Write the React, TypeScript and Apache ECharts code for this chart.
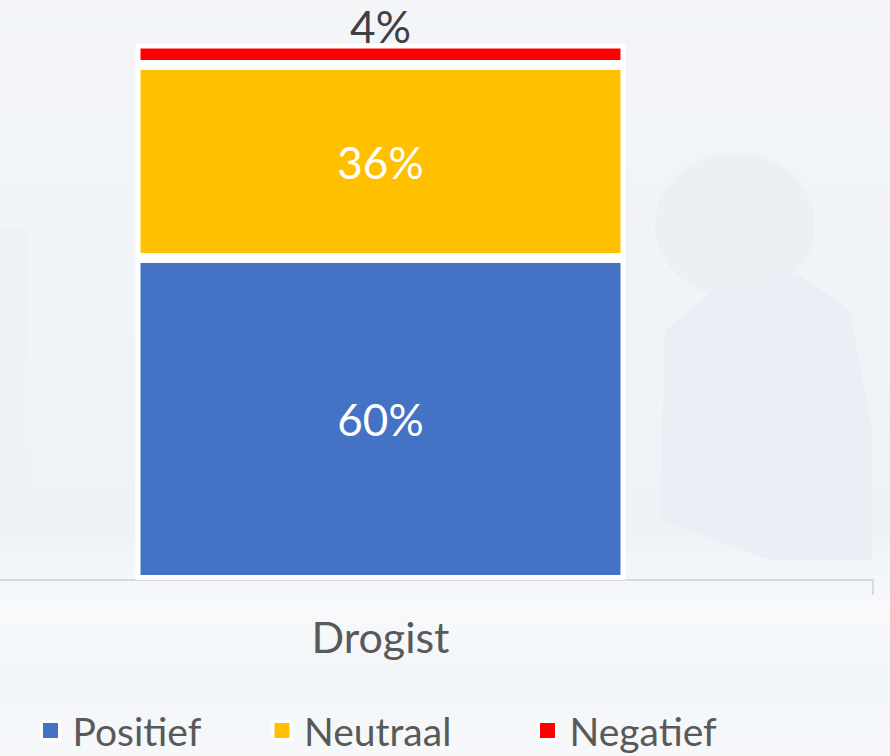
import React, { useEffect, useRef } from "react";
import * as echarts from "echarts";

const categories = ["Drogist"];
const seriesNames = ["Positief", "Neutraal", "Negatief"];
const positief = [60];
const neutraal = [36];
const negatief = [4];
const colors = ["#4472C4", "#FFC000", "#FF0000"];
const legendTextWidths = [142, 176, 182];

const FONT = "Lato, 'Noto Sans', sans-serif";

export default function App() {
  const ref = useRef<HTMLDivElement>(null);
  useEffect(() => {
    if (!ref.current) return;
    const chart = echarts.init(ref.current, undefined, { renderer: "svg" });
    const values = [positief, neutraal, negatief];
    chart.setOption({
      animation: false,
      backgroundColor: {
        type: "linear",
        x: 0, y: 0, x2: 0, y2: 1,
        colorStops: [
          { offset: 0, color: "#f3f5f8" },
          { offset: 0.7, color: "#eef2f7" },
          { offset: 0.8, color: "#f7f9fb" },
          { offset: 0.9, color: "#f3f6f9" },
          { offset: 1, color: "#f6f8fa" },
        ],
      },
      graphic: [
        { type: "ellipse", z: -10, silent: true, shape: { cx: 735, cy: 225, rx: 80, ry: 72 }, style: { fill: "#ecf0f5" } },
        { type: "polygon", z: -10, silent: true, shape: { points: [[665, 330], [720, 285], [800, 275], [850, 310], [872, 430], [872, 560], [770, 560], [660, 520]] }, style: { fill: "#ebeff5" } },
        { type: "rect", z: -10, silent: true, shape: { x: 0, y: 230, width: 28, height: 300 }, style: { fill: "#eef2f6" } },
      ],
      legend: {
        data: seriesNames.map((name, i) => ({
          name,
          textStyle: { width: legendTextWidths[i] },
        })),
        left: 35,
        top: 706,
        icon: "rect",
        itemWidth: 18,
        itemHeight: 18,
        itemGap: 57,
        itemStyle: { borderColor: "#ffffff", borderWidth: 3 },
        textStyle: { fontFamily: FONT, fontSize: 39, lineHeight: 38, color: "#595959", padding: [0, 0, 0, 8] },
      },
      grid: { left: -112, right: 17, top: 43.5, bottom: 176, containLabel: false, outerBoundsMode: "none" },
      xAxis: {
        type: "category",
        data: categories,
        axisLine: { show: true, lineStyle: { color: "#d9d9d9", width: 2 } },
        axisTick: { show: true, length: 15, lineStyle: { color: "#d9d9d9", width: 2 } },
        axisLabel: { fontFamily: FONT, fontSize: 43, color: "#595959", margin: 35 },
      },
      yAxis: {
        type: "value",
        min: 0,
        max: 100,
        show: false,
        splitLine: { show: false },
      },
      series: seriesNames.map((name, i) => ({
        name,
        type: "bar",
        stack: "total",
        barWidth: 490,
        data: values[i],
        itemStyle: { color: colors[i], borderColor: "#ffffff", borderWidth: 5 },
        label: {
          show: true,
          position: i === 2 ? "top" : "inside",
          distance: 0,
          formatter: "{c}%",
          fontFamily: FONT,
          fontSize: 44,
          lineHeight: 36,
          color: i === 2 ? "#404040" : "#ffffff",
        },
      })),
    });
    return () => chart.dispose();
  }, []);
  return (
    <div
      ref={ref}
      style={{ position: "fixed", left: 0, top: 0, width: 890, height: 756 }}
    />
  );
}
